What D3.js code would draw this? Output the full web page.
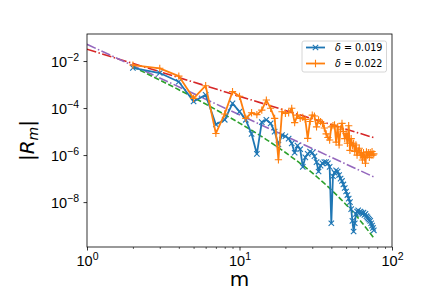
<!DOCTYPE html>
<html>
<head>
<meta charset="utf-8">
<script src="https://cdn.jsdelivr.net/npm/d3@7"></script>
<style>
  body { margin: 0; background: #fff; }
  svg { display: block; font-family: "DejaVu Sans", sans-serif; }
</style>
</head>
<body>
<div id="chart"></div>
<script>
// m values (x)
const mValues = [2, 3, 4, 5, 6, 7, 8, 9, 10, 11, 12, 13, 14, 15, 16, 17, 18, 19, 20, 21,
    22, 23, 24, 25, 26, 27, 28, 29, 30, 31, 32, 33, 34, 35, 36, 37, 38, 39, 40, 41,
    42, 43, 44, 45, 46, 47, 48, 49, 50, 51, 52, 53, 54, 55, 56, 57, 58, 59, 60, 61,
    62, 63, 64, 65, 66, 67, 68, 69, 70, 71, 72, 73, 74, 75, 76];

// log10 |R_m|, delta = 0.019
const logR019 = [-2.29, -2.51, -2.88, -3.72, -3.44, -4.7, -4.5, -3.8, -4.15, -4.5,
    -5.1, -5.95, -4.6, -4.5, -4.65, -5.0, -5.55, -5.15, -5.2, -5.3,
    -5.5, -5.9, -5.6, -5.75, -6.5, -6.1, -5.95, -5.85, -5.9, -6.05,
    -6.3, -6.7, -6.45, -6.35, -6.3, -6.3, -6.35, -6.5, -8.9, -6.9,
    -6.75, -6.65, -6.7, -6.85, -7.0, -7.1, -7.25, -7.4, -7.55, -7.7,
    -7.85, -8.0, -8.3, -8.8, -9.25, -8.9, -8.5, -8.4, -8.35, -8.45,
    -8.4, -8.45, -8.5, -8.45, -8.55, -8.5, -8.6, -8.65, -8.7, -8.75,
    -8.8, -8.9, -9.0, -9.1, -9.2];

// delta = 0.022
const logR022 = [-2.17, -2.31, -2.64, -3.59, -3.05, -5.08, -4.25, -3.3, -3.5, -4.44,
    -4.2, -4.28, -4.09, -3.66, -4.01, -4.44, -6.2, -4.16, -4.23, -4.2,
    -4.01, -4.62, -4.3, -4.44, -4.4, -4.48, -5.29, -4.57, -4.3, -4.34,
    -4.8, -4.5, -4.58, -4.65, -4.85, -5.1, -5.25, -5.36, -4.8, -4.75,
    -4.72, -5.45, -4.8, -5.57, -4.9, -4.65, -5.0, -5.3, -5.08, -5.5,
    -4.75, -5.8, -5.3, -5.6, -5.5, -5.85, -5.57, -6.0, -5.8, -5.71,
    -6.0, -5.9, -6.21, -5.9, -6.1, -6.35, -5.86, -6.0, -5.9, -6.1,
    -5.9, -6.0, -5.85, -6.0, -5.95];

// reference lines: [m, log10 value]
const redLine = [[1, -1.5], [76, -5.26]];
const purpleLine = [[1, -1.29], [76, -6.93]];
const greenLine = [[2, -2.24], [3, -2.81], [4, -3.22], [6, -3.83], [10, -4.64], [15, -5.34],
    [20, -5.89], [30, -6.76], [40, -7.48], [50, -8.11], [60, -8.68], [76, -9.53]];

const seriesNames = ["δ = 0.019", "δ = 0.022"];
const xTicks = [1, 10, 100];
const xTickExp = ["0", "1", "2"];
const yTicks = [1e-2, 1e-4, 1e-6, 1e-8];
const yTickExp = ["−2", "−4", "−6", "−8"];

const W = 436, H = 291;
const margin = {top: 34, right: 44, bottom: 44, left: 87};

const svg = d3.select("#chart").append("svg")
    .attr("width", W).attr("height", H);

const x = d3.scaleLog().domain([1, 100]).range([margin.left, W - margin.right]);
const y = d3.scaleLog().domain([Math.pow(10, -9.91), Math.pow(10, -0.85)])
    .range([H - margin.bottom, margin.top]);

const plotW = W - margin.right - margin.left;
const plotH = H - margin.bottom - margin.top;

svg.append("defs").append("clipPath").attr("id", "clip")
    .append("rect").attr("x", margin.left).attr("y", margin.top)
    .attr("width", plotW).attr("height", plotH);

const plot = svg.append("g").attr("clip-path", "url(#clip)");

const lineLog = d3.line()
    .x(d => x(d[0]))
    .y(d => y(Math.pow(10, d[1])));

// fit lines
plot.append("path").datum(redLine)
    .attr("d", lineLog).attr("fill", "none")
    .attr("stroke", "#d62728").attr("stroke-width", 1.6)
    .attr("stroke-dasharray", "9.6,2.4,1.5,2.4");

plot.append("path").datum(purpleLine)
    .attr("d", lineLog).attr("fill", "none")
    .attr("stroke", "#9467bd").attr("stroke-width", 1.6)
    .attr("stroke-dasharray", "9.6,2.4,1.5,2.4");

plot.append("path").datum(greenLine)
    .attr("d", lineLog.curve(d3.curveMonotoneX)).attr("fill", "none")
    .attr("stroke", "#2ca02c").attr("stroke-width", 1.6)
    .attr("stroke-dasharray", "5.5,2.4");
lineLog.curve(d3.curveLinear);

const series = [
    {name: seriesNames[0], vals: logR019, color: "#1f77b4", marker: "x"},
    {name: seriesNames[1], vals: logR022, color: "#ff7f0e", marker: "+"}
];

function markerPath(type, s) {
    if (type === "x") return `M${-s},${-s}L${s},${s}M${-s},${s}L${s},${-s}`;
    return `M${-s * 1.35},0L${s * 1.35},0M0,${-s * 1.35}L0,${s * 1.35}`;
}

series.forEach(sr => {
    const pts = mValues.map((m, i) => [m, sr.vals[i]]);
    plot.append("path").datum(pts)
        .attr("d", lineLog).attr("fill", "none")
        .attr("stroke", sr.color).attr("stroke-width", 1.8)
        .attr("stroke-linejoin", "round");
    plot.selectAll(null).data(pts).enter().append("path")
        .attr("transform", d => `translate(${x(d[0])},${y(Math.pow(10, d[1]))})`)
        .attr("d", markerPath(sr.marker, 2.7))
        .attr("stroke", sr.color).attr("stroke-width", 1.1).attr("fill", "none");
});

// axes
const minorX = [2, 3, 4, 5, 6, 7, 8, 9, 20, 30, 40, 50, 60, 70, 80, 90];
svg.append("g")
    .attr("transform", `translate(0,${H - margin.bottom})`)
    .call(d3.axisBottom(x).tickValues(minorX).tickSize(2).tickFormat(""))
    .call(g => g.select(".domain").remove())
    .selectAll("line").attr("stroke", "#000").attr("stroke-width", 0.6);

const xAxis = svg.append("g")
    .attr("transform", `translate(0,${H - margin.bottom})`)
    .call(d3.axisBottom(x).tickValues(xTicks).tickSize(3.5).tickFormat(""));
xAxis.select(".domain").remove();
xAxis.selectAll("line").attr("stroke", "#000").attr("stroke-width", 0.8);
xAxis.selectAll(".tick").append("text")
    .attr("y", 18.5).attr("fill", "#000").attr("text-anchor", "middle")
    .style("font-size", "14.5px")
    .each(function(d, i) {
        const t = d3.select(this);
        t.append("tspan").text("10");
        t.append("tspan").attr("dy", -6).style("font-size", "10.5px").text(xTickExp[i]);
    });

const yAxis = svg.append("g")
    .attr("transform", `translate(${margin.left},0)`)
    .call(d3.axisLeft(y).tickValues(yTicks).tickSize(3.5).tickFormat(""));
yAxis.select(".domain").remove();
yAxis.selectAll("line").attr("stroke", "#000").attr("stroke-width", 0.8);
yAxis.selectAll(".tick").append("text")
    .attr("x", -8).attr("y", 5.5).attr("fill", "#000").attr("text-anchor", "end")
    .style("font-size", "14.5px")
    .each(function(d, i) {
        const t = d3.select(this);
        t.append("tspan").text("10");
        t.append("tspan").attr("dy", -6).style("font-size", "10.5px").text(yTickExp[i]);
    });

// frame
svg.append("rect")
    .attr("x", margin.left).attr("y", margin.top)
    .attr("width", plotW).attr("height", plotH)
    .attr("fill", "none").attr("stroke", "#000").attr("stroke-width", 0.8);

// axis labels
svg.append("text")
    .attr("x", margin.left + plotW / 2).attr("y", 286)
    .attr("text-anchor", "middle").style("font-size", "20px")
    .text("m");

const yl = svg.append("text")
    .attr("transform", `translate(34,${margin.top + plotH / 2}) rotate(-90)`)
    .attr("text-anchor", "middle").style("font-size", "20px");
yl.append("tspan").text("|");
yl.append("tspan").style("font-style", "italic").text("R");
yl.append("tspan").attr("dy", 4).style("font-style", "italic").style("font-size", "14px").text("m");
yl.append("tspan").attr("dy", -4).text("|");

// legend
const lg = svg.append("g").attr("transform", "translate(302,41)");
lg.append("rect")
    .attr("width", 84.5).attr("height", 31).attr("rx", 2)
    .attr("fill", "#fff").attr("fill-opacity", 0.8)
    .attr("stroke", "#ccc").attr("stroke-width", 0.8);

series.forEach((sr, i) => {
    const cy = 6.5 + i * 16;
    lg.append("line").attr("x1", 4).attr("x2", 23).attr("y1", cy).attr("y2", cy)
        .attr("stroke", sr.color).attr("stroke-width", 1.8);
    lg.append("path").attr("transform", `translate(13.5,${cy})`)
        .attr("d", markerPath(sr.marker, 2.7))
        .attr("stroke", sr.color).attr("stroke-width", 1.1).attr("fill", "none");
    const t = lg.append("text").attr("x", 33).attr("y", cy + 3.4)
        .style("font-size", "9.6px").attr("fill", "#000");
    t.append("tspan").style("font-style", "italic").text("δ");
    t.append("tspan").text(sr.name.slice(1));
});
</script>
</body>
</html>
